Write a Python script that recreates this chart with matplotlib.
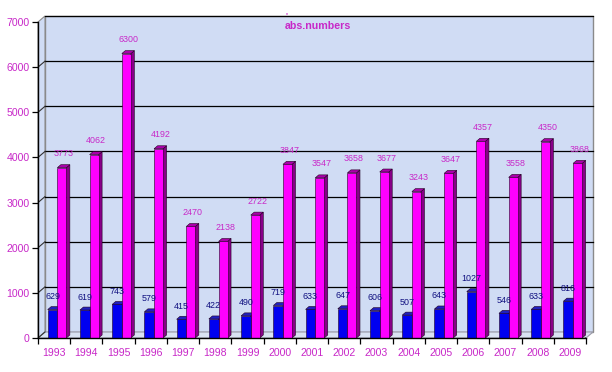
import matplotlib
matplotlib.use('Agg')
import matplotlib.pyplot as plt
from matplotlib.patches import Rectangle, Polygon
import matplotlib.transforms as mtransforms
import numpy as np

years = ['1993', '1994', '1995', '1996', '1997', '1998', '1999', '2000', '2001',
         '2002', '2003', '2004', '2005', '2006', '2007', '2008', '2009']
blue_vals = [629, 619, 743, 579, 415, 422, 490, 719, 633, 647, 606, 507, 643, 1027, 546, 633, 816]
mag_vals = [3773, 4062, 6300, 4192, 2470, 2138, 2722, 3847, 3547, 3658, 3677, 3243, 3647, 4357, 3558, 4350, 3868]
yticks = [0, 1000, 2000, 3000, 4000, 5000, 6000, 7000]
title = 'abs.numbers'

W, H = 612, 372
DPI = 100
FONT = 'Liberation Sans'
BG = '#d0dcf4'
FLOOR = '#d9e2f2'
TXT_MAG = '#c828c8'
TXT_BLUE = '#101080'

fig = plt.figure(figsize=(W / DPI, H / DPI), dpi=DPI)
fig.patch.set_facecolor('white')
ax = fig.add_axes([38 / W, (H - 338) / H, (586 - 38) / W, (338 - 22) / H])
n = len(years)
ax.set_xlim(0, n)
ax.set_ylim(yticks[0], yticks[-1])
ax.patch.set_visible(False)
for k in ('top', 'right'):
    ax.spines[k].set_visible(False)
for k in ('left', 'bottom'):
    ax.spines[k].set_color('black')
    ax.spines[k].set_linewidth(1.0)
    ax.spines[k].set_zorder(6)

fig.canvas.draw()
WALL_DX, WALL_DY = 7, 6
BAR_DX, BAR_DY = 3.5, 3
back = ax.transData + mtransforms.Affine2D().translate(WALL_DX, WALL_DY)
ident = mtransforms.IdentityTransform()

def disp(x, y):
    return ax.transData.transform((x, y))

# back wall
ax.add_patch(Rectangle((0, yticks[0]), n, yticks[-1] - yticks[0], transform=back,
                       facecolor=BG, edgecolor='#8a8a8a', lw=1.0, clip_on=False, zorder=0))
# left side wall
p0 = disp(0, yticks[0]); p1 = disp(0, yticks[-1])
off = np.array([WALL_DX, WALL_DY])
ax.add_patch(Polygon([p0, p1, p1 + off, p0 + off], closed=True, transform=ident,
                     facecolor=BG, edgecolor='#8a8a8a', lw=0.8, clip_on=False, zorder=0))
# floor
q0 = disp(0, 0); q1 = disp(n, 0)
ax.add_patch(Polygon([q0, q1, q1 + off, q0 + off], closed=True, transform=ident,
                     facecolor=FLOOR, edgecolor='#9a9aa8', lw=0.8, clip_on=False, zorder=0.5))
ax.add_line(plt.Line2D([q1[0], q1[0] + WALL_DX], [q1[1], q1[1] + WALL_DY], transform=ident,
                       color='black', lw=0.9, zorder=6))

# gridlines on back wall + diagonals
for v in yticks[1:]:
    ax.plot([0, n], [v, v], transform=back, color='black', lw=0.9, zorder=1, clip_on=False)
for v in yticks:
    a = disp(0, v)
    ax.add_line(plt.Line2D([a[0], a[0] + WALL_DX], [a[1], a[1] + WALL_DY], transform=ident,
                           color='#333333', lw=0.8, zorder=1))

def bar3d(x0, w, h, front, side, top):
    bl = disp(x0, 0); br = disp(x0 + w, 0); tr = disp(x0 + w, h); tl = disp(x0, h)
    d = np.array([BAR_DX, BAR_DY])
    ax.add_patch(Polygon([br, tr, tr + d, br + d], closed=True, transform=ident,
                         facecolor=side, edgecolor='#200020', lw=0.4, zorder=3))
    ax.add_patch(Polygon([tl, tr, tr + d, tl + d], closed=True, transform=ident,
                         facecolor=top, edgecolor='#200020', lw=0.4, zorder=3))
    ax.add_patch(Rectangle((x0, 0), w, h, facecolor=front, edgecolor='#200020', lw=0.4,
                           zorder=3, clip_on=False))

BW = 0.30
for i in range(n):
    xb = i + 0.30
    xm = xb + BW
    bar3d(xb, BW, blue_vals[i], '#0000f0', '#000090', '#2020c0')
    bar3d(xm, 0.28, mag_vals[i], '#ff00ff', '#880088', '#aa00aa')
    ax.annotate(str(blue_vals[i]), (xb + BW / 2, blue_vals[i]), xytext=(0, 13),
                textcoords='offset pixels', ha='center', va='center', fontsize=6.4,
                family=FONT, color=TXT_BLUE, zorder=7, annotation_clip=False)
    ax.annotate(str(mag_vals[i]), (xm + 0.14, mag_vals[i]), xytext=(2, 14),
                textcoords='offset pixels', ha='center', va='center', fontsize=6.4,
                family=FONT, color=TXT_MAG, zorder=7, annotation_clip=False)

ax.set_yticks(yticks)
ax.set_yticklabels([str(v) for v in yticks], family=FONT, fontsize=7.6, color=TXT_MAG)
ax.tick_params(axis='y', direction='out', length=4, width=0.9, color='black', pad=2)
ax.set_xticks(np.arange(0, n + 1))
ax.set_xticklabels([])
ax.tick_params(axis='x', which='major', direction='out', length=4, width=0.9, color='black')
ax.set_xticks(np.arange(n) + 0.5, minor=True)
ax.set_xticklabels(years, minor=True, family=FONT, fontsize=7.6, color=TXT_MAG)
ax.tick_params(axis='x', which='minor', length=0, pad=7)

fig.text(285 / W, 1 - 26 / H, title, ha='left', va='center', fontsize=7.7,
         family=FONT, weight='bold', color=TXT_MAG)
fig.text(286 / W, 1 - 16 / H, "'", ha='center', va='center', fontsize=6,
         family=FONT, weight='bold', color=TXT_MAG)

fig.savefig('out.png', dpi=DPI, facecolor='white')
